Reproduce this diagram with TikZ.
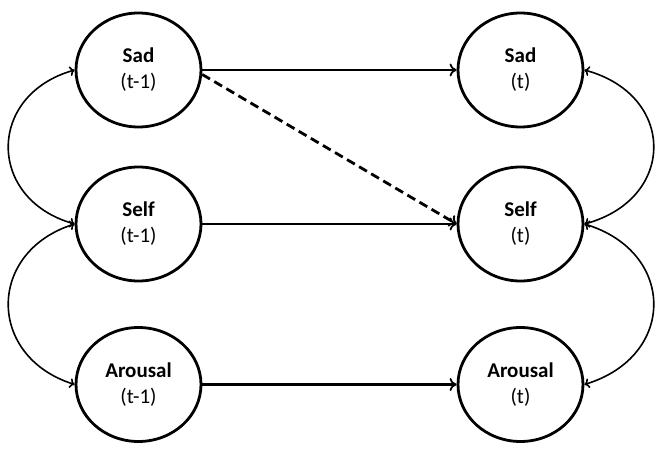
\documentclass[tikz,border=0pt]{standalone}
\usepackage{fontspec}
\setmainfont{Carlito}
\usetikzlibrary{shapes.geometric,arrows.meta}
\begin{document}
\begin{tikzpicture}[x=1pt,y=1pt,
  var/.style={ellipse,draw,line width=2.8pt,minimum width=125pt,minimum height=114pt,inner sep=0pt,align=center,font=\fontsize{21}{26}\selectfont},
  path1/.style={line width=2.8pt,-{To[length=7pt,width=13pt,line width=1.8pt]}},
  cov/.style={line width=1.6pt,{To[length=5pt,width=10pt]}-{To[length=5pt,width=10pt]}}]
\useasboundingbox (0,0) rectangle (666,455);
\node[var] (sad1) at (138.5,385) {\textbf{Sad}\\(t-1)};
\node[var] (self1) at (138.5,231) {\textbf{Self}\\(t-1)};
\node[var] (ar1) at (138.5,70.5) {\textbf{Arousal}\\(t-1)};
\node[var] (sad2) at (520.5,385) {\textbf{Sad}\\(t)};
\node[var] (self2) at (520.5,231) {\textbf{Self}\\(t)};
\node[var] (ar2) at (520.5,70.5) {\textbf{Arousal}\\(t)};
\draw[path1] (sad1.east) -- (sad2.west);
\draw[path1] (self1.east) -- (self2.west);
\draw[path1] (ar1.east) -- (ar2.west);
\draw[path1,dash pattern=on 9pt off 5pt] (sad1.-4) -- (self2.west);
\draw[cov] (sad1.west) .. controls +(-88,-25) and +(-88,25) .. (self1.west);
\draw[cov] (self1.west) .. controls +(-88,-28) and +(-88,28) .. (ar1.west);
\draw[cov] (sad2.east) .. controls +(92,-25) and +(92,25) .. (self2.east);
\draw[cov] (self2.east) .. controls +(92,-28) and +(92,28) .. (ar2.east);
\end{tikzpicture}
\end{document}
